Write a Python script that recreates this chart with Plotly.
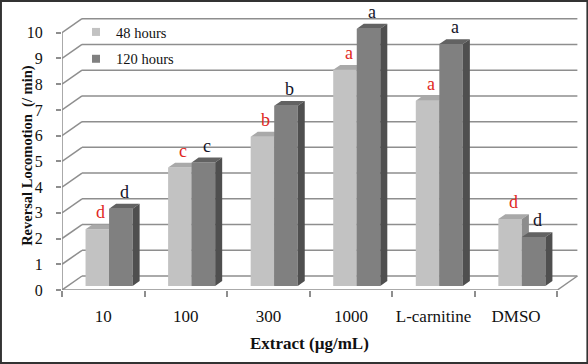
import plotly.graph_objects as go

categories = ["10", "100", "300", "1000", "L-carnitine", "DMSO"]
hours48 = [2.2, 4.6, 5.8, 8.4, 7.2, 2.6]
hours120 = [3.0, 4.8, 7.0, 10.0, 9.4, 1.9]
letters48 = ["d", "c", "b", "a", "a", "d"]
letters120 = ["d", "c", "b", "a", "a", "d"]
series_names = ["48 hours", "120 hours"]
y_ticks = list(range(0, 11))

# pseudo-3D geometry (in data units)
W, H = 588, 364
ML, MR, MT, MB = 62, 10.4, 16, 74
XR = [-0.5, 5.75]
YR = [0, 10.65]
px_x = (W - ML - MR) / (XR[1] - XR[0])
px_y = (H - MT - MB) / (YR[1] - YR[0])
DX = 20 / px_x          # full depth offset x
DY = 14 / px_y          # full depth offset y
F_FRONT, F_DEPTH = 0.29, 0.35
SX, SY = F_FRONT * DX, F_FRONT * DY
DDX, DDY = F_DEPTH * DX, F_DEPTH * DY
BW = 0.285

FONT = "Liberation Serif"
GRID = "#8e8e8e"

colors = {
    0: dict(front="#c2c2c2", top="#a9a9a9", side="#8c8c8c"),
    1: dict(front="#808080", top="#626262", side="#4f4f4f"),
}

fig = go.Figure()


def faces(vals, k):
    fx, fy, tx, ty, sx_, sy_ = [], [], [], [], [], []
    for i, v in enumerate(vals):
        xl = i + SX - BW + k * BW
        xr = xl + BW
        b = SY
        t = SY + v
        fx += [xl, xr, xr, xl, xl, None]
        fy += [b, b, t, t, b, None]
        tx += [xl, xr, xr + DDX, xl + DDX, xl, None]
        ty += [t, t, t + DDY, t + DDY, t, None]
        sx_ += [xr, xr + DDX, xr + DDX, xr, xr, None]
        sy_ += [b, b + DDY, t + DDY, t, b, None]
    return (fx, fy), (tx, ty), (sx_, sy_)


for k, vals in enumerate([hours48, hours120]):
    f, t, s = faces(vals, k)
    for (xs, ys), key in [(f, "front"), (t, "top"), (s, "side")]:
        fig.add_trace(go.Scatter(
            x=xs, y=ys, mode="lines", fill="toself",
            fillcolor=colors[k][key], line=dict(width=0, color=colors[k][key]),
            showlegend=False, hoverinfo="skip"))

# legend entries
for k, name in enumerate(series_names):
    fig.add_trace(go.Scatter(
        x=[None], y=[None], mode="markers", name=name,
        marker=dict(symbol="square", size=8, color=colors[k]["front"]),
        legendgroup=str(k)))

shapes = []
for v in y_ticks:
    shapes.append(dict(type="line", xref="x", yref="y", x0=XR[0], y0=v,
                       x1=XR[0] + DX, y1=v + DY, line=dict(color=GRID, width=1.5), layer="below"))
    shapes.append(dict(type="line", xref="x", yref="y", x0=XR[0] + DX, y0=v + DY,
                       x1=len(categories) - 0.5 + DX, y1=v + DY,
                       line=dict(color=GRID, width=1.5), layer="below"))
# front axis, floor edges
shapes.append(dict(type="line", xref="x", yref="y", x0=XR[0], y0=0, x1=XR[0], y1=y_ticks[-1],
                   line=dict(color=GRID, width=1.5), layer="below"))
shapes.append(dict(type="line", xref="x", yref="y", x0=XR[0], y0=0, x1=len(categories) - 0.5, y1=0,
                   line=dict(color=GRID, width=1.5), layer="below"))
shapes.append(dict(type="line", xref="x", yref="y", x0=len(categories) - 0.5, y0=0,
                   x1=len(categories) - 0.5 + DX, y1=DY, line=dict(color=GRID, width=1.5), layer="below"))
# outer frame
pw = W - ML - MR
ph = H - MT - MB
shapes.append(dict(type="rect", xref="paper", yref="paper",
                   x0=(-ML + 1) / pw, x1=(W - ML - 1) / pw,
                   y0=(-MB + 1) / ph, y1=(H - MB - 1) / ph,
                   line=dict(color="#333333", width=2), fillcolor="rgba(0,0,0,0)"))

annotations = []
for k, (vals, labs, col) in enumerate([(hours48, letters48, "#e0281e"), (hours120, letters120, "#141428")]):
    for i, (v, lab) in enumerate(zip(vals, labs)):
        xl = i + SX - BW + k * BW
        annotations.append(dict(x=xl + (BW + DDX) / 2, y=SY + v + DDY, xref="x", yref="y",
                                text=lab, showarrow=False, yanchor="bottom", yshift=0,
                                font=dict(family=FONT, size=18, color=col)))
annotations.append(dict(x=(len(categories) - 1) / 2, y=0, xref="x", yref="y", yshift=-53,
                        text="<b>Extract (µg/mL)</b>", showarrow=False,
                        font=dict(family=FONT, size=17, color="#111111")))
annotations.append(dict(x=0, xref="paper", xshift=-45, y=y_ticks[-1] / 2, yref="y", yshift=6,
                        text="<b>Reversal Locomotion  (/ min)</b>", showarrow=False, textangle=-90,
                        font=dict(family=FONT, size=14.5, color="#111111")))

fig.update_layout(
    width=W, height=H, margin=dict(l=ML, r=MR, t=MT, b=MB),
    paper_bgcolor="white", plot_bgcolor="white",
    shapes=shapes, annotations=annotations,
    showlegend=True,
    legend=dict(x=(76 - ML) / pw, y=(H - MB - 16) / ph, xanchor="left", yanchor="top",
                bgcolor="rgba(0,0,0,0)", font=dict(family=FONT, size=14.5, color="#111111"),
                traceorder="grouped", tracegroupgap=5, itemwidth=30),
    xaxis=dict(range=XR, showgrid=False, zeroline=False, showline=False,
               tickmode="array", tickvals=list(range(len(categories))), ticktext=categories,
               ticks="", ticklabelstandoff=14,
               tickfont=dict(family=FONT, size=17, color="#111111"),
               minor=dict(tickmode="linear", tick0=-0.5, dtick=1, ticks="outside",
                          ticklen=6, tickcolor=GRID, tickwidth=1.5, showgrid=False)),
    yaxis=dict(range=YR, showgrid=False, zeroline=False, showline=False,
               tickmode="array", tickvals=y_ticks, ticks="outside", ticklen=5,
               tickcolor=GRID, tickwidth=1.5, ticklabelstandoff=10,
               tickfont=dict(family=FONT, size=16, color="#111111")),
)

fig.write_html("out.html", config={"displayModeBar": False},
               post_script="document.body.style.margin='0';")
